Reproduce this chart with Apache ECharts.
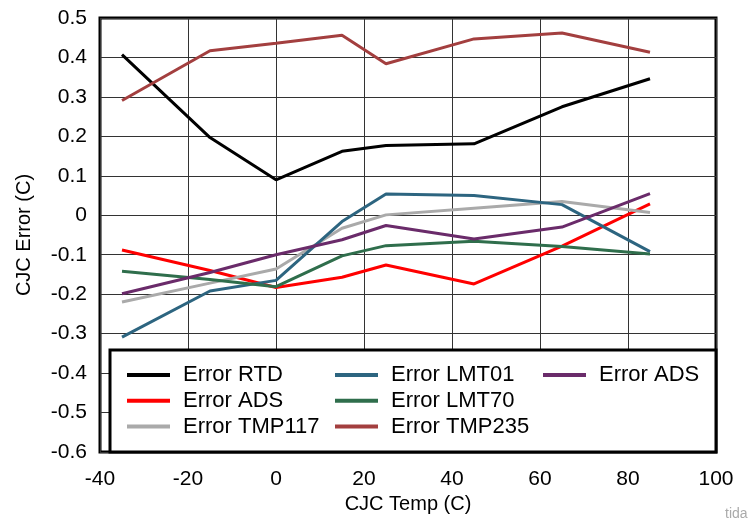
<!DOCTYPE html>
<html>
<head>
<meta charset="utf-8">
<script src="https://cdn.jsdelivr.net/npm/echarts@6/dist/echarts.min.js"></script>
<style>html,body{margin:0;padding:0;background:#fff}#c{width:749px;height:522px}</style>
</head>
<body>
<div id="c"></div>
<script>
// CJC temperature (x) values
const xTemps = [-35, -15, 0, 15, 25, 45, 65, 85];
// Errors (C)
const errRTD    = [0.407, 0.197, 0.090, 0.162, 0.177, 0.181, 0.275, 0.346];
const errADS    = [-0.088, -0.140, -0.183, -0.157, -0.126, -0.174, -0.078, 0.029];
const errTMP117 = [-0.220, -0.172, -0.136, -0.033, 0.001, 0.018, 0.035, 0.007];
const errLMT01  = [-0.309, -0.192, -0.165, -0.016, 0.054, 0.050, 0.027, -0.092];
const errLMT70  = [-0.142, -0.163, -0.181, -0.103, -0.077, -0.066, -0.079, -0.098];
const errTMP235 = [0.291, 0.417, 0.436, 0.456, 0.384, 0.447, 0.462, 0.413];
const errADS2   = [-0.199, -0.145, -0.100, -0.062, -0.026, -0.060, -0.030, 0.055];

const seriesNames = ['Error RTD', 'Error ADS', 'Error TMP117', 'Error LMT01', 'Error LMT70', 'Error TMP235', 'Error ADS (2)'];
const seriesData = [errRTD, errADS, errTMP117, errLMT01, errLMT70, errTMP235, errADS2];
const seriesColors = ['#000000', '#ff0000', '#aaaaaa', '#2d6580', '#2f6e4c', '#a33f3f', '#6a2b6a'];

const xTicks = { min: -40, max: 100, interval: 20 };
const yTicks = { min: -0.6, max: 0.5, interval: 0.1 };

const FONT = 'Liberation Sans, Arial, Helvetica, sans-serif';

const chart = echarts.init(document.getElementById('c'), null, { renderer: 'canvas' });

const series = seriesNames.map((n, i) => ({
  name: n,
  type: 'line',
  data: xTemps.map((x, j) => [x, seriesData[i][j]]),
  showSymbol: false,
  symbol: 'none',
  lineStyle: { width: 3, color: seriesColors[i] },
  itemStyle: { color: seriesColors[i] },
  z: 3
}));

function legendCol(names, left) {
  return {
    orient: 'vertical',
    left: left,
    top: 362,
    padding: 0,
    itemGap: 0,
    itemWidth: 43,
    itemHeight: 4,
    icon: 'rect',
    data: names,
    z: 60,
    formatter: (n) => n.replace(' (2)', ''),
    textStyle: { fontFamily: FONT, fontSize: 22, color: '#000', lineHeight: 25.8, padding: [0, 0, 0, 8] }
  };
}

chart.setOption({
  animation: false,
  backgroundColor: '#fff',
  grid: { left: 100, right: 33, top: 18, bottom: 70, show: true, borderColor: '#000', borderWidth: 3, backgroundColor: 'transparent' },
  xAxis: {
    type: 'value', min: xTicks.min, max: xTicks.max, interval: xTicks.interval,
    name: 'CJC Temp (C)', nameLocation: 'middle', nameGap: 40,
    nameTextStyle: { fontFamily: FONT, fontSize: 20, color: '#000' },
    axisLine: { show: false }, axisTick: { show: false },
    axisLabel: { fontFamily: FONT, fontSize: 21, color: '#000', margin: 17 },
    splitLine: { show: true, lineStyle: { color: '#333', width: 1 } }
  },
  yAxis: {
    type: 'value', min: yTicks.min, max: yTicks.max, interval: yTicks.interval,
    name: 'CJC Error (C)', nameLocation: 'middle', nameGap: 66,
    nameTextStyle: { fontFamily: FONT, fontSize: 20, color: '#000' },
    axisLine: { show: false }, axisTick: { show: false },
    axisLabel: { fontFamily: FONT, fontSize: 21, color: '#000', margin: 13,
      formatter: (v) => Math.abs(v) < 1e-9 ? '0' : v.toFixed(1) },
    splitLine: { show: true, lineStyle: { color: '#333', width: 1 } }
  },
  legend: [
    legendCol(['Error RTD', 'Error ADS', 'Error TMP117'], 127),
    legendCol(['Error LMT01', 'Error LMT70', 'Error TMP235'], 335),
    legendCol(['Error ADS (2)'], 543)
  ],
  graphic: [
    { type: 'rect', z: 50, shape: { x: 110, y: 350, width: 606, height: 102 },
      style: { fill: '#fff', stroke: '#000', lineWidth: 3 } },
    { type: 'text', z: 50, left: 725, top: 507,
      style: { text: 'tida', fill: '#aaa', font: '14px ' + FONT } }
  ],
  series: series
});
</script>
</body>
</html>
